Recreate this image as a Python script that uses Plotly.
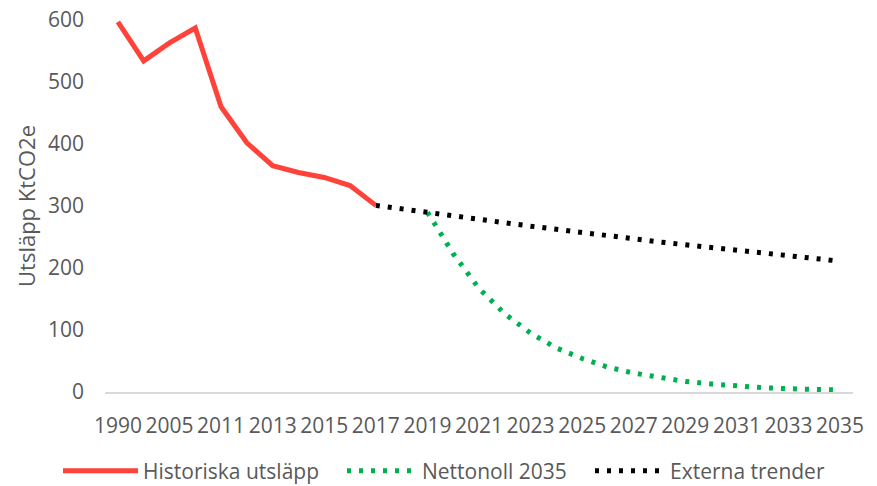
import plotly.graph_objects as go

years = ["1990", "2000", "2005", "2010", "2011", "2012", "2013", "2014", "2015", "2016", "2017",
         "2018", "2019", "2020", "2021", "2022", "2023", "2024", "2025", "2026", "2027",
         "2028", "2029", "2030", "2031", "2032", "2033", "2034", "2035"]

hist_years = years[:11]
hist_vals = [597, 534, 563, 587, 460, 402, 365, 354, 346, 333, 301]

netto_years = years[12:]
netto_vals = [290, 223, 167, 126, 95, 71, 54, 40, 30.5, 23, 17, 13, 9.7, 7, 5.3, 4.3, 3.2]

trend_years = years[10:]
trend_vals = [301, 295, 290, 284, 278, 273, 267.5, 262, 257, 252, 247, 242, 237.5, 233, 228, 224, 219.5, 215, 211]

tick_labels = years[::2]

FONT = "Open Sans, sans-serif"
GREY = "#595959"

fig = go.Figure()
fig.add_trace(go.Scatter(x=hist_years, y=hist_vals, mode="lines", name="Historiska utsläpp",
                         legend="legend", line=dict(color="#FF433B", width=5)))
fig.add_trace(go.Scatter(x=netto_years, y=netto_vals, mode="lines", name="Nettonoll 2035",
                         legend="legend2", line=dict(color="#00B050", width=5, dash="4px,8px")))
fig.add_trace(go.Scatter(x=trend_years, y=trend_vals, mode="lines", name="Externa trender",
                         legend="legend3", line=dict(color="#000000", width=5, dash="4px,8px")))

def leg(xpx, iw):
    return dict(orientation="h", xref="container", yref="container",
                x=xpx / 877, y=(486 - 471) / 486, xanchor="left", yanchor="middle",
                itemwidth=iw, bgcolor="rgba(0,0,0,0)",
                font=dict(family=FONT, size=21, color=GREY))

fig.update_layout(
    width=877, height=486,
    margin=dict(l=105, r=24, t=20, b=94, autoexpand=False),
    plot_bgcolor="white", paper_bgcolor="white",
    showlegend=True,
    legend=leg(58, 75),
    legend2=leg(342, 70),
    legend3=leg(590, 70),
    xaxis=dict(type="category", categoryorder="array", categoryarray=years,
               tickmode="array", tickvals=tick_labels, ticktext=tick_labels,
               showgrid=False, showline=True, linecolor="#D9D9D9", linewidth=1.5,
               ticks="", ticklabelstandoff=14, tickangle=0,
               tickfont=dict(family=FONT, size=21, color=GREY),
               range=[-0.5, 28.5]),
    yaxis=dict(range=[0, 600], tickvals=[0, 100, 200, 300, 400, 500, 600],
               showgrid=False, zeroline=False, showline=False, ticks="",
               ticklabelstandoff=20,
               tickfont=dict(family=FONT, size=21, color=GREY),
               title=dict(text="Utsläpp KtCO2e", standoff=6,
                          font=dict(family=FONT, size=22, color=GREY))),
)

fig.write_html("out.html")
